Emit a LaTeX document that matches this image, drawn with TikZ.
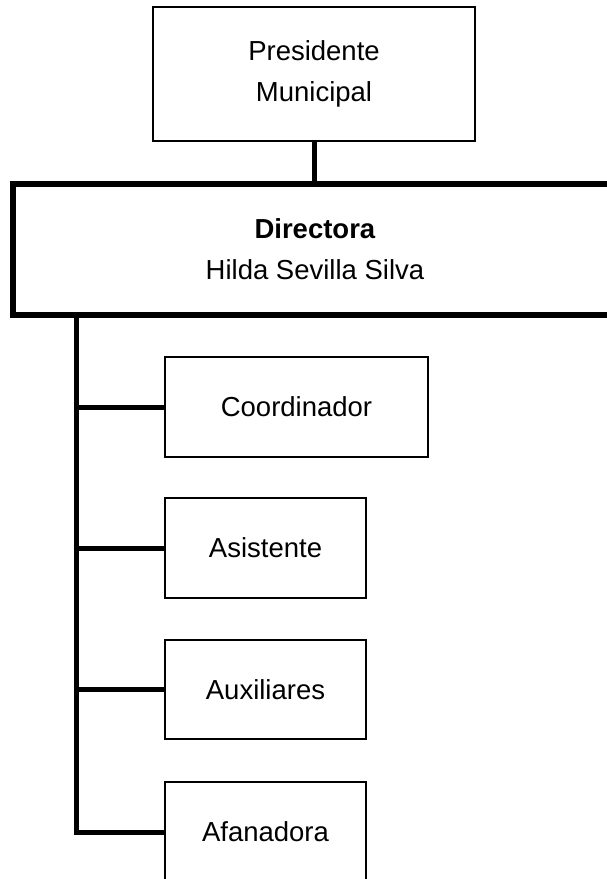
\documentclass[tikz,border=0pt]{standalone}
\usepackage{fontspec}
\setmainfont{Liberation Sans}
\begin{document}
\begin{tikzpicture}[x=1pt,y=-1pt,
  txt/.style={font=\fontsize{27.5}{41}\selectfont},
  box/.style={draw, line width=2pt, inner sep=0pt, align=center, txt},
  bigbox/.style={draw, line width=6pt, inner sep=0pt, align=center, txt},
  conn/.style={line width=5pt}]
\useasboundingbox (0,0) rectangle (607,879);
\clip (0,0) rectangle (607,879);
\fill[white] (0,0) rectangle (607,879);
\node[box, minimum width=322pt, minimum height=134pt] (pres) at (314,74) {Presidente\\Municipal};
\node[bigbox, minimum width=604pt, minimum height=131pt] (dir) at (315,249.5) {\textbf{Directora}\\Hilda Sevilla Silva};
\node[box, minimum width=263pt, minimum height=100pt] (coord) at (296.5,407) {Coordinador};
\node[box, minimum width=201pt, minimum height=100pt] (asis) at (265.5,548) {Asistente};
\node[box, minimum width=201pt, minimum height=99pt] (aux) at (265.5,689.5) {Auxiliares};
\node[box, minimum width=201pt, minimum height=100pt] (afa) at (265.5,832) {Afanadora};
\coordinate (bus) at (76,315);
\draw[conn] (pres.south) -- (dir.north -| pres.south);
\draw[conn] (dir.south -| bus) |- (afa.west);
\draw[conn] (coord.west -| bus) -- (coord.west);
\draw[conn] (asis.west -| bus) -- (asis.west);
\draw[conn] (aux.west -| bus) -- (aux.west);
\end{tikzpicture}
\end{document}
